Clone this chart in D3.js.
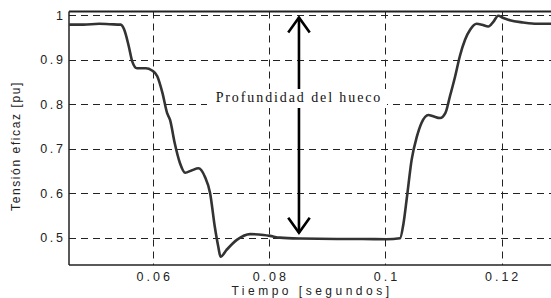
<!DOCTYPE html>
<html>
<head>
<meta charset="utf-8">
<script src="https://cdn.jsdelivr.net/npm/d3@7"></script>
<style>
  body { margin: 0; background: #fff; }
  svg { display: block; }
</style>
</head>
<body>
<div id="chart"></div>
<script>
// time in seconds
const tiempo = [0.0455, 0.0480, 0.0507, 0.0525, 0.0544, 0.0550, 0.0558, 0.0564, 0.0572, 0.0587,
  0.0598, 0.0607, 0.0616, 0.0624, 0.0629, 0.0637, 0.0646, 0.0655, 0.0666, 0.0678,
  0.0689, 0.0698, 0.0706, 0.0712, 0.0716, 0.0726, 0.0744, 0.0767, 0.0790, 0.0801,
  0.0818, 0.0853, 0.0916, 0.0960, 0.1002, 0.1025, 0.1031, 0.1037, 0.1045, 0.1054,
  0.1062, 0.1074, 0.1082, 0.1094, 0.1103, 0.1111, 0.1120, 0.1128, 0.1137, 0.1146,
  0.1157, 0.1166, 0.1177, 0.1186, 0.1194, 0.1203, 0.1214, 0.1237, 0.1261, 0.1285];
// RMS voltage in pu
const tension = [0.979, 0.979, 0.981, 0.980, 0.979, 0.968, 0.930, 0.896, 0.881, 0.881,
  0.876, 0.863, 0.825, 0.780, 0.765, 0.713, 0.668, 0.646, 0.651, 0.656,
  0.637, 0.600, 0.525, 0.480, 0.457, 0.472, 0.495, 0.508, 0.506, 0.504,
  0.500, 0.498, 0.497, 0.497, 0.4965, 0.4985, 0.532, 0.592, 0.675, 0.727,
  0.758, 0.776, 0.773, 0.769, 0.780, 0.818, 0.863, 0.908, 0.945, 0.968,
  0.981, 0.979, 0.975, 0.986, 0.999, 0.994, 0.989, 0.984, 0.981, 0.981];

const xTicks = [0.06, 0.08, 0.1, 0.12];
const yTicks = [0.5, 0.6, 0.7, 0.8, 0.9, 1];
const xTickLabels = ["0.06", "0.08", "0.1", "0.12"];
const yTickLabels = ["0.5", "0.6", "0.7", "0.8", "0.9", "1"];

// arrow showing the sag depth
const flecha = { t: 0.0851, desde: 0.995, hasta: 0.511 };
const etiqueta = "Profundidad del hueco";

const width = 551, height = 298;
const margin = { top: 11.5, right: 0, bottom: 33, left: 69 };

const svg = d3.select("#chart").append("svg")
    .attr("width", width)
    .attr("height", height);

const x = d3.scaleLinear()
    .domain([0.0455, 0.1285])
    .range([margin.left, width - margin.right]);

const y = d3.scaleLinear()
    .domain([0.4385, 1.0086])
    .range([height - margin.bottom, margin.top]);

const data = tiempo.map((t, i) => ({ t: t, v: tension[i] }));

// dashed grid
const grid = svg.append("g").attr("stroke", "#222").attr("stroke-width", 1)
    .attr("stroke-dasharray", "7,5");
grid.selectAll(".gx").data(xTicks).join("line")
    .attr("x1", d => Math.round(x(d)) + 0.5).attr("x2", d => Math.round(x(d)) + 0.5)
    .attr("y1", margin.top).attr("y2", height - margin.bottom);
grid.selectAll(".gy").data(yTicks).join("line")
    .attr("x1", margin.left).attr("x2", width)
    .attr("y1", d => Math.round(y(d)) + 0.5).attr("y2", d => Math.round(y(d)) + 0.5);

// frame: top, left, bottom
const frame = svg.append("g").attr("stroke", "#222").attr("fill", "none");
frame.append("line").attr("x1", margin.left).attr("x2", width)
    .attr("y1", margin.top).attr("y2", margin.top).attr("stroke-width", 2);
frame.append("line").attr("x1", margin.left).attr("x2", margin.left)
    .attr("y1", margin.top).attr("y2", height - margin.bottom).attr("stroke-width", 1.5);
frame.append("line").attr("x1", margin.left).attr("x2", width)
    .attr("y1", height - margin.bottom).attr("y2", height - margin.bottom).attr("stroke-width", 1.5);

// tick labels
svg.append("g").selectAll("text").data(yTicks).join("text")
    .attr("x", 65.5)
    .attr("y", d => y(d) + 4.5)
    .attr("text-anchor", "end")
    .attr("font-family", "Liberation Sans, Arial, sans-serif")
    .attr("font-size", 12.5)
    .attr("letter-spacing", 2.6)
    .attr("fill", "#222")
    .text((d, i) => yTickLabels[i]);

svg.append("g").selectAll("text").data(xTicks).join("text")
    .attr("x", d => x(d) + 1.5)
    .attr("y", 280.5)
    .attr("text-anchor", "middle")
    .attr("font-family", "Liberation Sans, Arial, sans-serif")
    .attr("font-size", 12.5)
    .attr("letter-spacing", 3)
    .attr("fill", "#222")
    .text((d, i) => xTickLabels[i]);

// axis titles
svg.append("text")
    .attr("x", 312).attr("y", 294.5)
    .attr("text-anchor", "middle")
    .attr("font-family", "Liberation Sans, Arial, sans-serif")
    .attr("font-size", 12)
    .attr("letter-spacing", 3.5)
    .attr("fill", "#222")
    .text("Tiempo [segundos]");

svg.append("text")
    .attr("transform", "translate(20,146) rotate(-90)")
    .attr("text-anchor", "middle")
    .attr("font-family", "Liberation Sans, Arial, sans-serif")
    .attr("font-size", 12)
    .attr("letter-spacing", 1.6)
    .attr("fill", "#222")
    .text("Tensión eficaz [pu]");

// the curve
const line = d3.line()
    .x(d => x(d.t))
    .y(d => y(d.v))
    .curve(d3.curveMonotoneX);

svg.append("path")
    .datum(data)
    .attr("d", line)
    .attr("fill", "none")
    .attr("stroke", "#333")
    .attr("stroke-width", 2.6)
    .attr("stroke-linejoin", "round");

// double arrow with label
const ax = x(flecha.t);
const y0 = y(flecha.desde), y1 = y(flecha.hasta);
const arr = svg.append("g").attr("stroke", "#000").attr("stroke-width", 2.6)
    .attr("fill", "none").attr("stroke-linecap", "square");
arr.append("line").attr("x1", ax).attr("x2", ax).attr("y1", y0 + 1).attr("y2", y1 - 1);
arr.append("path").attr("d", `M${ax - 10},${y0 + 14}L${ax},${y0}L${ax + 10},${y0 + 14}`);
arr.append("path").attr("d", `M${ax - 10},${y1 - 14}L${ax},${y1}L${ax + 10},${y1 - 14}`);

svg.append("rect")
    .attr("x", 207).attr("y", 89)
    .attr("width", 180).attr("height", 19)
    .attr("fill", "#fff");

svg.append("text")
    .attr("x", ax)
    .attr("y", 102)
    .attr("text-anchor", "middle")
    .attr("font-family", "Liberation Serif, Times New Roman, serif")
    .attr("font-size", 14)
    .attr("letter-spacing", 1.9)
    .attr("fill", "#111")
    .text(etiqueta);
</script>
</body>
</html>
